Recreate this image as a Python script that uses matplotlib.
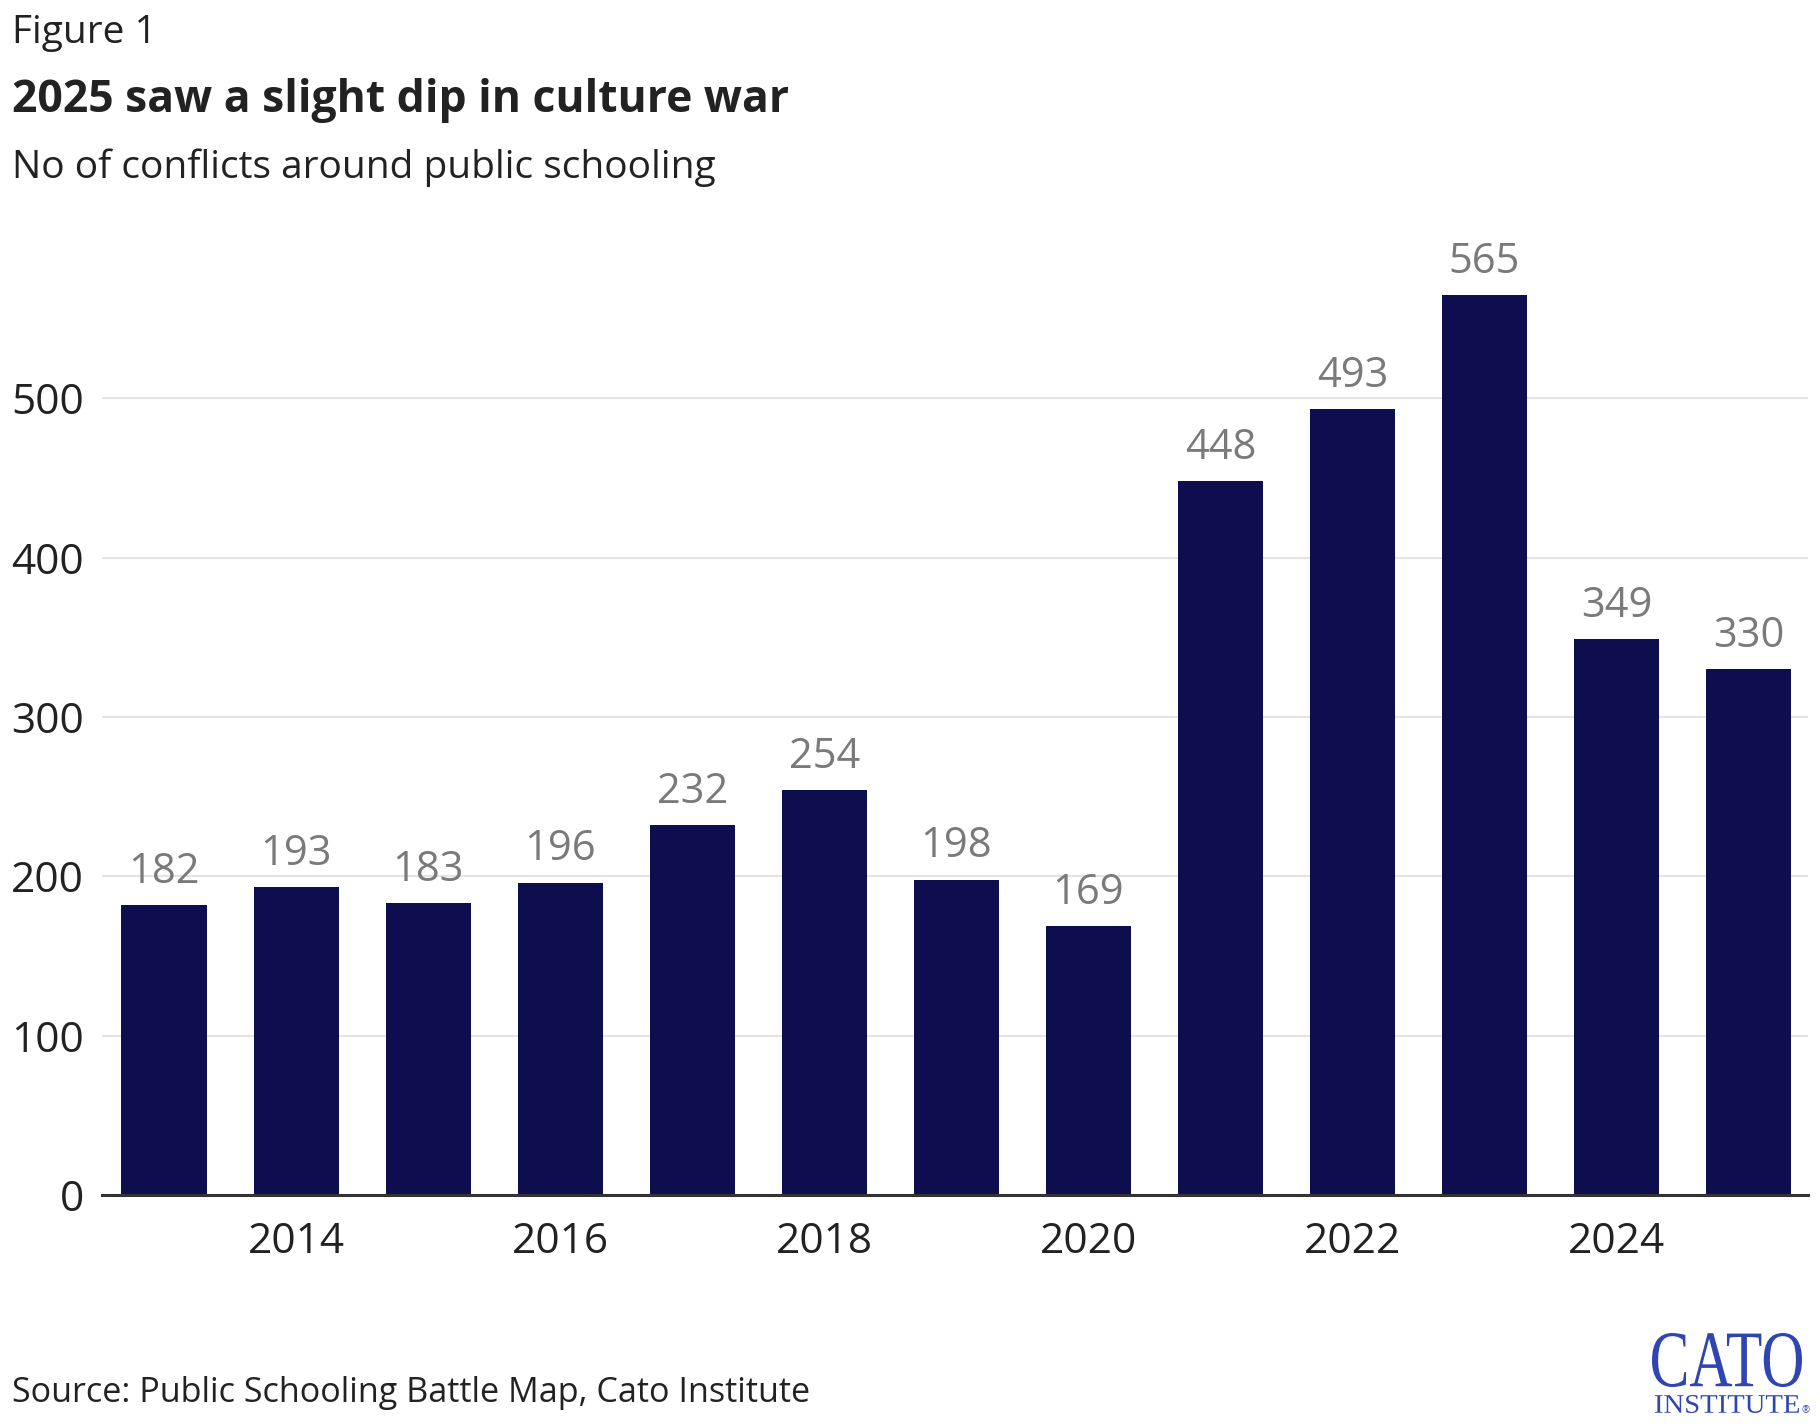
import matplotlib
matplotlib.use("Agg")
import matplotlib.pyplot as plt
from matplotlib.font_manager import FontProperties
from matplotlib.patches import PathPatch
from matplotlib.textpath import TextPath
from matplotlib.transforms import Affine2D

# --- Data ---
years = list(range(2013, 2026))
conflicts = [182, 193, 183, 196, 232, 254, 198, 169, 448, 493, 565, 349, 330]
year_ticks = [2014, 2016, 2018, 2020, 2022, 2024]
value_ticks = [0, 100, 200, 300, 400, 500]

W, H = 1820, 1427
BAR = "#0e0e4f"
TEXT = "#222222"
LABEL = "#7a7a7a"
FONT = "Open Sans"

plt.rcParams["font.family"] = [FONT, "DejaVu Sans"]

fig = plt.figure(figsize=(W / 100, H / 100), dpi=100)
ax = fig.add_axes([102 / W, 1 - 1195 / H, (1808 - 102) / W, (1195 - 239) / H])

ax.bar(years, conflicts, width=0.645, color=BAR, zorder=2)

for yr, val in zip(years, conflicts):
    ax.annotate(
        str(val),
        xy=(yr, val),
        xytext=(0, 16),
        textcoords="offset points",
        ha="center",
        va="baseline",
        fontsize=30,
        color=LABEL,
        annotation_clip=False,
    )

ax.set_xlim(2012.53, 2025.45)
ax.set_ylim(0, 600)
ax.set_xticks(year_ticks)
ax.set_xticklabels([str(t) for t in year_ticks])
ax.set_yticks(value_ticks)

ax.yaxis.grid(True, color="#e4e4e4", linewidth=1.6, zorder=0)
ax.set_axisbelow(True)

for spine in ["top", "right", "left"]:
    ax.spines[spine].set_visible(False)
ax.spines["bottom"].set_color("#333333")
ax.spines["bottom"].set_linewidth(2.2)
ax.spines["bottom"].set_zorder(3)

ax.tick_params(axis="x", length=0, pad=19, labelsize=30.5, labelcolor=TEXT)
ax.tick_params(axis="y", length=0, pad=13, labelsize=30.5, labelcolor=TEXT)

# --- Header / footer text ---
fig.text(12 / W, 1 - 43 / H, "Figure 1", fontsize=28, color=TEXT, va="baseline")
fig.text(12 / W, 1 - 112 / H, "2025 saw a slight dip in culture war",
         fontsize=32, fontweight="bold", color=TEXT, va="baseline")
fig.text(12 / W, 1 - 178 / H, "No of conflicts around public schooling",
         fontsize=28, color=TEXT, va="baseline")
fig.text(12 / W, 1 - 1402 / H, "Source: Public Schooling Battle Map, Cato Institute",
         fontsize=24.6, color=TEXT, va="baseline")


# --- Logo, drawn as scaled text paths ---
def logo_text(s, x0, x1, base, top):
    prop = FontProperties(family="Liberation Serif")
    path = TextPath((0, 0), s, size=1, prop=prop)
    ext = path.get_extents()
    sx = (x1 - x0) / ext.width
    sy = (base - top) / ext.height
    tr = (Affine2D()
          .translate(-ext.x0, -ext.y0)
          .scale(sx / W, sy / H)
          .translate(x0 / W, (H - base) / H)
          + fig.transFigure)
    fig.add_artist(PathPatch(path, transform=tr, facecolor="#2f45b2",
                             edgecolor="none"))


logo_text("CATO", 1652, 1802, 1387, 1333)
logo_text("INSTITUTE", 1655, 1799, 1413, 1395)
fig.text(1801 / W, 1 - 1413 / H, "\u00ae", fontsize=7, color="#2f45b2",
         va="baseline")

fig.savefig("out.png", dpi=100)
